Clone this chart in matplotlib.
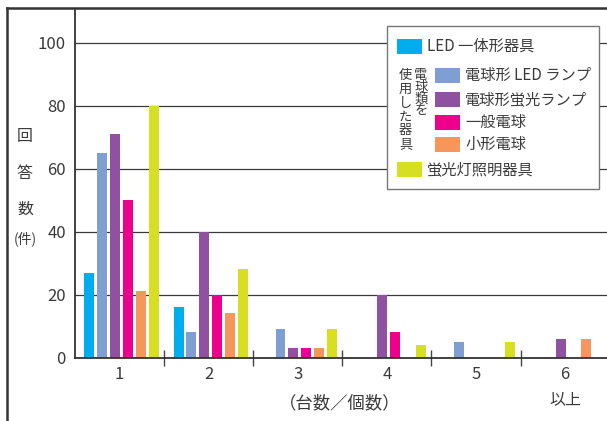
import matplotlib
matplotlib.use("Agg")
import matplotlib.pyplot as plt
from matplotlib.patches import Rectangle
from matplotlib.lines import Line2D
import matplotlib.transforms as mtransforms
import numpy as np

plt.rcParams['font.family'] = ['Noto Sans CJK JP', 'DejaVu Sans']

# ---- data ----
groups = ['1', '2', '3', '4', '5', '6']
series_names = ['LED 一体形器具', '電球形 LED ランプ', '電球形蛍光ランプ', '一般電球', '小形電球', '蛍光灯照明器具']
series_colors = ['#00AEEF', '#7F9FD3', '#8E52A1', '#EC008C', '#F7965A', '#D7DF23']
led_fixture   = [27, 16, 0, 0, 0, 0]
led_bulb      = [65, 8, 9, 0, 5, 0]
cfl_bulb      = [71, 40, 3, 20, 0, 6]
incandescent  = [50, 20, 3, 8, 0, 0]
small_bulb    = [21, 14, 3, 0, 0, 6]
fluorescent   = [80, 28, 9, 4, 5, 0]
series_values = [led_fixture, led_bulb, cfl_bulb, incandescent, small_bulb, fluorescent]
yticks = [0, 20, 40, 60, 80, 100]

W, H = 607, 421
fig = plt.figure(figsize=(W / 100, H / 100), dpi=100)

def fx(x):
    return x / W

def fy(y):
    return 1 - y / H

ax = fig.add_axes([fx(75), fy(357.5), 532 / W, 347.5 / H])

txt = '#3a3a3a'
x = np.arange(len(groups))
bw = 0.112
step = 0.144
for k, (vals, col) in enumerate(zip(series_values, series_colors)):
    ax.bar(x + (k - 2.5) * step + 0.022, vals, width=bw, color=col, zorder=3, linewidth=0)

ax.set_xlim(-0.5, 5.47)
ax.set_ylim(0, 110.4)

for s in ['top', 'right']:
    ax.spines[s].set_visible(False)
for s in ['left', 'bottom']:
    ax.spines[s].set_color('#333333')
    ax.spines[s].set_linewidth(1.3)
    ax.spines[s].set_zorder(4)

ax.set_yticks(yticks)
ax.set_yticklabels([str(v) for v in yticks])
ax.yaxis.grid(True, color='#3a3a3a', linewidth=0.9, zorder=1)
ax.set_axisbelow(True)
ax.tick_params(axis='y', length=0, pad=6.5, labelsize=12, labelcolor=txt)

ax.set_xticks(x[:-1] + 0.5)
ax.set_xticklabels([])
ax.tick_params(axis='x', which='major', direction='inout', length=12, width=1.0, color='#444444')
ax.set_xticks(x, minor=True)
ax.set_xticklabels(groups, minor=True)
ax.tick_params(axis='x', which='minor', length=0, pad=6, labelsize=12, labelcolor=txt)

trans = mtransforms.blended_transform_factory(ax.transData, ax.transAxes)
ax.text(5, (357.5 - 400) / 347.5, '以上', transform=trans, ha='center', va='center',
        fontsize=11.5, color=txt)

fig.text(fx(340), fy(403.5), '（台数／個数）', ha='center', va='center', fontsize=12.5, color=txt)

# y label stacked
for ch, yy, fs in [('回', 136, 11.5), ('答', 173.5, 11.5), ('数', 209.5, 11.5), ('(件)', 238.5, 10)]:
    fig.text(fx(25), fy(yy), ch, ha='center', va='center', fontsize=fs, color=txt)

# frame lines
fig.add_artist(Line2D([fx(7), 1], [fy(7.5), fy(7.5)], color='#333333', linewidth=1.8))
fig.add_artist(Line2D([fx(7), fx(7)], [0, fy(7.5)], color='#333333', linewidth=1.8))

# legend box
fig.add_artist(Rectangle((fx(387), fy(189)), (599 - 387) / W, (189 - 26) / H,
                         transform=fig.transFigure, facecolor='white', edgecolor='#777777',
                         linewidth=1.0, zorder=5))

def patch(x0, yc, col):
    fig.add_artist(Rectangle((fx(x0), fy(yc + 7.5)), 25 / W, 15 / H, transform=fig.transFigure,
                             facecolor=col, edgecolor='none', zorder=6))

entries = [
    (397, 46.5, 427),
    (435, 75.5, 465),
    (435, 99.5, 465),
    (435, 122.5, 465),
    (435, 144.5, 465),
    (397, 169.5, 427),
]
for (px0, yc, tx), name, col in zip(entries, series_names, series_colors):
    patch(px0, yc, col)
    fig.text(fx(tx), fy(yc), name, ha='left', va='center', fontsize=11, color=txt, zorder=7)

col_right = '電球類を'
col_left = '使用した器具'
for i, ch in enumerate(col_right):
    fig.text(fx(421), fy(75 + 12 * i), ch, ha='center', va='center', fontsize=9.5, color=txt, zorder=7)
for i, ch in enumerate(col_left):
    fig.text(fx(405.5), fy(75 + 14 * i), ch, ha='center', va='center', fontsize=9.5, color=txt, zorder=7)

fig.savefig('out.png', dpi=100)
